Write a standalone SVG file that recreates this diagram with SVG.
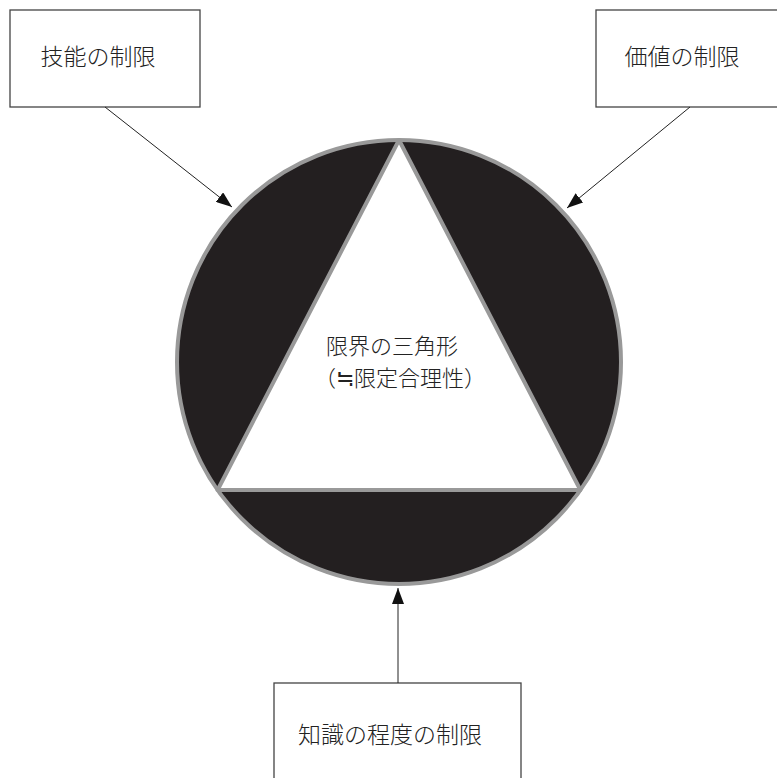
<svg xmlns="http://www.w3.org/2000/svg" width="777" height="778" viewBox="0 0 777 778">
<style>
.box{fill:#fff;stroke:#444;stroke-width:1.3}
.lbl{font-family:"Noto Sans CJK JP","Noto Sans CJK SC",sans-serif;font-size:23px;font-weight:300;fill:#222}
.mid{font-size:22px}
.conn{stroke:#222;stroke-width:1;fill:none}
.seg{fill:#231f20}
.rim{fill:none;stroke:#999;stroke-width:4}
</style>
<defs>
<marker id="ah" viewBox="0 0 16 12" refX="16" refY="6" markerWidth="16" markerHeight="12" markerUnits="userSpaceOnUse" orient="auto">
<path d="M0,0 L16,6 L0,12 Z" fill="#111"/>
</marker>
</defs>
<rect width="777" height="778" fill="#fff"/>
<g id="circle">
<circle cx="399" cy="362" r="222" class="seg"/>
<polygon points="399,140 217.6,490 580.4,490" fill="#fff"/>
<polygon points="399,140 217.6,490 580.4,490" class="rim" stroke-linejoin="round"/>
<circle cx="399" cy="362" r="222" class="rim"/>
<text class="lbl mid" x="392" y="354" text-anchor="middle">限界の三角形</text>
<text class="lbl mid" x="400" y="386" text-anchor="middle">（≒限定合理性）</text>
</g>
<g id="skill">
<rect class="box" x="10" y="10" width="190" height="97"/>
<text class="lbl" x="98" y="65" text-anchor="middle">技能の制限</text>
</g>
<g id="value">
<rect class="box" x="596" y="10" width="200" height="97"/>
<text class="lbl" x="682" y="65" text-anchor="middle">価値の制限</text>
</g>
<g id="knowledge">
<rect class="box" x="274" y="683" width="247" height="120"/>
<text class="lbl" x="390" y="743" text-anchor="middle">知識の程度の制限</text>
</g>
<g id="connectors">
<line class="conn" x1="105" y1="107" x2="232" y2="207" marker-end="url(#ah)"/>
<line class="conn" x1="690" y1="107" x2="567" y2="208" marker-end="url(#ah)"/>
<line class="conn" x1="398" y1="683" x2="398" y2="588" stroke="#777" marker-end="url(#ah)"/>
</g>
</svg>
